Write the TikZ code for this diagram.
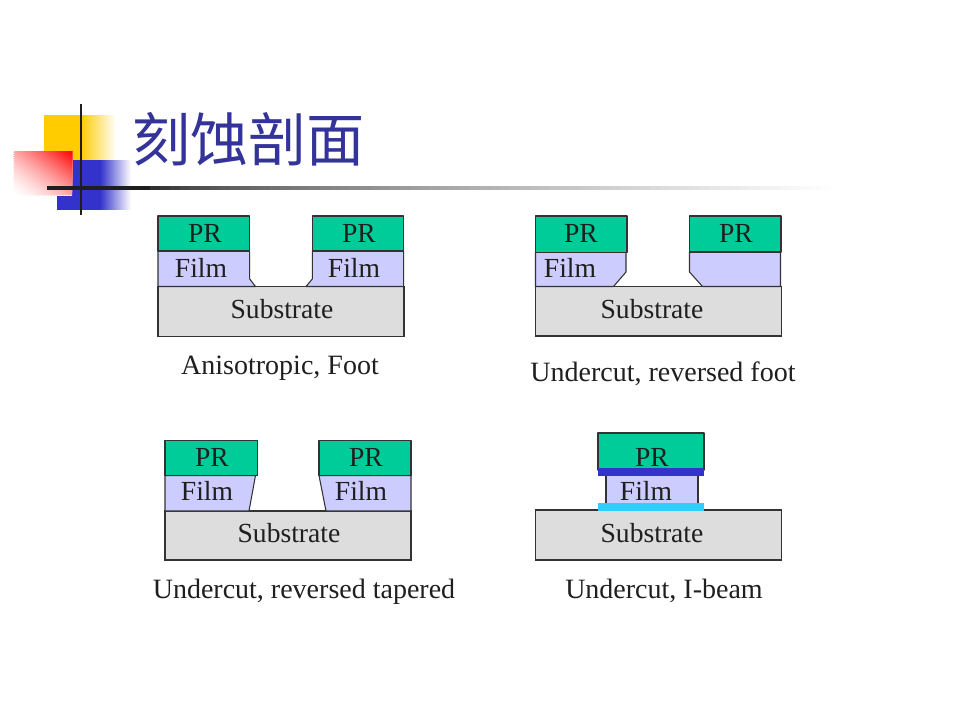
\documentclass[tikz,border=0pt]{standalone}
\usepackage{fontspec}
\setmainfont{Liberation Serif}
\newfontfamily\cjk{Noto Sans CJK SC}
\definecolor{prc}{HTML}{00CC99}
\definecolor{filmc}{HTML}{CCCCFF}
\definecolor{subc}{HTML}{DDDDDD}
\definecolor{edgec}{HTML}{333333}
\definecolor{barc}{HTML}{3333CC}
\definecolor{cyanc}{HTML}{33CCFF}
\definecolor{titlec}{HTML}{333399}
\definecolor{yellc}{HTML}{FFCC00}
\definecolor{linec}{HTML}{1E1E1E}
\tikzset{
  prbox/.style={draw=edgec,fill=prc,line width=0.8pt,line join=round},
  filmbox/.style={draw=edgec,fill=filmc,line width=0.8pt,line join=round},
  subbox/.style={draw=edgec,fill=subc,line width=0.8pt},
  lbl/.style={inner sep=0pt,font=\fontsize{20.7pt}{24pt}\selectfont,text=black!88},
  captext/.style={inner sep=0pt,font=\fontsize{21pt}{24pt}\selectfont,text=black!88},
  ttl/.style={inner sep=0pt,font=\fontsize{43.6pt}{48pt}\selectfont\cjk,text=titlec}
}
\begin{document}
\begin{tikzpicture}[x=0.75pt,y=-0.75pt]
\useasboundingbox (0,0) rectangle (960,720);
\fill[white] (0,0) rectangle (960,720);
% yellow square with fade
\fill[yellc] (44,115) rectangle (81,161);
\foreach \i in {0,...,34} {
  \pgfmathsetmacro\p{100*(1-\i/35)}
  \pgfmathsetmacro\xa{81+\i}
  \fill[yellc!\p!white] (\xa,115) rectangle (116,161);
}
% blue square with fade
\fill[barc] (57,160) rectangle (100,210);
\foreach \i in {0,...,30} {
  \pgfmathsetmacro\p{100*(1-\i/31)}
  \pgfmathsetmacro\xa{100+\i}
  \fill[barc!\p!white] (\xa,160) rectangle (131,210);
}
% red square with diagonal fade
\begin{scope}
\clip (13,152) rectangle (72,196);
\fill[white] (13,152) rectangle (72,196);
\foreach \i in {0,...,40} {
  \pgfmathsetmacro\t{\i/40}
  \pgfmathsetmacro\p{100*pow(\t,1.5)}
  \pgfmathsetmacro\xa{13+118*\t}
  \pgfmathsetmacro\ya{196-88*\t}
  \fill[red!\p!white] (\xa,196) -- (13,\ya) -- (131,108) -- cycle;
}
\end{scope}
% rule lines
\fill[linec] (47,186.4) rectangle (140,189.6);
\foreach \i in {0,...,68} {
  \pgfmathsetmacro\t{\i/69}
  \pgfmathsetmacro\p{100*(1-pow(\t,0.6))}
  \pgfmathsetmacro\xa{140+10*\i}
  \fill[linec!\p!white] (\xa,186.4) rectangle (830,189.6);
}
\fill[linec] (79.6,104) rectangle (82.4,215);
\node[ttl,anchor=west] (title) at (132,139) {刻蚀剖面};
% panel 1
\draw[subbox] (158,286.5) rectangle (404,336.5);
\draw[filmbox] (158,251) -- (249.7,251) -- (249.7,279) -- (255.5,286.5) -- (158,286.5) -- cycle;
\draw[filmbox] (403.7,251) -- (312.3,251) -- (312.3,279) -- (306,286.5) -- (403.7,286.5) -- cycle;
\draw[prbox] (158,216) rectangle (249.7,251);
\draw[prbox] (312.3,216) rectangle (403.7,251);
\node[lbl] (a1) at (205,233) {PR};
\node[lbl] (a2) at (359,233) {PR};
\node[lbl] (a3) at (201,268) {Film};
\node[lbl] (a4) at (354,268) {Film};
\node[lbl] (a5) at (282,309) {Substrate};
\node[captext] (a6) at (280,368.5) {Anisotropic, Foot};
% panel 2
\draw[subbox] (535.5,286.5) rectangle (781.5,336);
\draw[filmbox] (535.5,252) -- (626,252) -- (626,272) -- (613.5,286.5) -- (535.5,286.5) -- cycle;
\draw[filmbox] (780.5,252) -- (689.5,252) -- (689.5,272) -- (702.5,286.5) -- (780.5,286.5) -- cycle;
\draw[prbox] (535.5,216) rectangle (627,252.5);
\draw[prbox] (689.5,216) rectangle (781,252);
\node[lbl] (b1) at (581,233) {PR};
\node[lbl] (b2) at (736,233) {PR};
\node[lbl] (b3) at (570,268) {Film};
\node[lbl] (b5) at (652,309) {Substrate};
\node[captext] (b6) at (663,374) {Undercut, reversed foot};
% panel 3
\draw[subbox] (165,511) rectangle (411,560);
\draw[filmbox] (165,475.5) -- (255.5,475.5) -- (249,511) -- (165,511) -- cycle;
\draw[filmbox] (411,475.5) -- (319,475.5) -- (326,511) -- (411,511) -- cycle;
\draw[prbox] (165,440.5) rectangle (257.5,475.5);
\draw[prbox] (319,440.5) rectangle (411,475.5);
\node[lbl] (c1) at (212,457) {PR};
\node[lbl] (c2) at (366,457) {PR};
\node[lbl] (c3) at (207,491) {Film};
\node[lbl] (c4) at (361,491) {Film};
\node[lbl] (c5) at (289,533) {Substrate};
\node[captext] (c6) at (304,591.5) {Undercut, reversed tapered};
% panel 4
\draw[subbox] (535.5,510) rectangle (781.5,560);
\draw[filmbox] (606,475) rectangle (698,504);
\draw[prbox] (598,433) rectangle (704,470);
\fill[barc] (598,468) rectangle (703.5,475.5);
\fill[cyanc] (598,503) rectangle (704,511);
\node[lbl] (d1) at (652,457) {PR};
\node[lbl] (d3) at (646,490.5) {Film};
\node[lbl] (d5) at (652,533) {Substrate};
\node[captext] (d6) at (664,591) {Undercut, I-beam};
\end{tikzpicture}
\end{document}
